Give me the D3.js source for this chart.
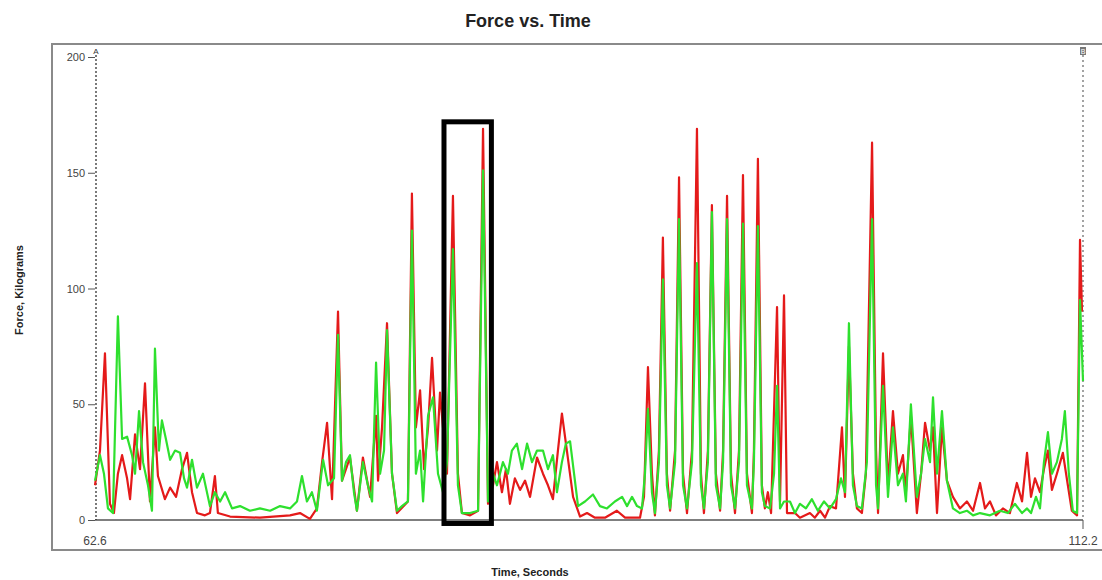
<!DOCTYPE html>
<html>
<head>
<meta charset="utf-8">
<script src="https://cdn.jsdelivr.net/npm/d3@7"></script>
<style>
  body { margin: 0; background: #fff; }
  svg { display: block; font-family: "Liberation Sans", Arial, sans-serif; }
</style>
</head>
<body>
<svg id="chart" width="1102" height="580"></svg>
<script>
// Force vs. Time
const W = 1102, H = 580;

// время (с), сила (кг)
const timeDomain = [62.6, 112.2];
const forceTicks = [0, 50, 100, 150, 200];
const timeLabels = ['62.6', '112.2'];

const redSeries = [
  [62.60,15],[62.85,30],[63.10,72],[63.35,7],[63.55,3],[63.75,20],[63.96,28],[64.21,18],[64.36,9],[64.61,37],
  [64.86,22],[65.11,59],[65.36,8],[65.61,40],[65.76,19],[66.11,9],[66.37,14],[66.67,10],[66.97,22],[67.22,29],
  [67.47,12],[67.72,3],[68.12,2],[68.37,3],[68.62,19],[68.77,3],[69.38,1.5],[70.88,1],[72.39,2],[72.89,3],
  [73.39,0.5],[73.74,5],[74.00,25],[74.25,42],[74.50,9],[74.80,90],[75.00,17],[75.40,27],[75.75,4],[76.05,27],
  [76.41,10],[76.71,45],[76.81,17],[77.01,40],[77.26,85],[77.51,20],[77.76,3],[78.31,8],[78.51,141],[78.71,40],
  [78.92,56],[79.12,22],[79.32,40],[79.52,70],[79.77,30],[79.92,55],[80.27,20],[80.57,140],[80.82,20],[81.02,3],
  [81.43,2],[81.83,4],[82.08,169],[82.33,7],[82.58,15],[82.78,25],[83.03,12],[83.23,22],[83.43,7],[83.68,18],
  [83.94,13],[84.19,17],[84.44,10],[84.79,27],[85.09,20],[85.34,15],[85.59,9],[85.84,30],[86.04,46],[86.29,30],
  [86.60,10],[86.95,1.5],[87.30,3],[87.70,1],[88.20,1],[88.80,4],[89.21,1],[89.96,1],[90.16,10],[90.36,66],
  [90.56,20],[90.71,2],[90.91,30],[91.11,122],[91.31,20],[91.47,4],[91.72,30],[91.92,148],[92.12,20],[92.32,3],
  [92.57,30],[92.82,169],[93.02,20],[93.17,3],[93.37,30],[93.57,136],[93.77,20],[93.98,4],[94.13,30],[94.33,140],
  [94.53,20],[94.73,3],[94.93,30],[95.13,149],[95.33,20],[95.58,3],[95.68,30],[95.88,156],[96.08,15],[96.23,5],
  [96.38,12],[96.54,3],[96.84,92],[96.99,8],[97.19,97],[97.34,3],[97.74,3],[97.99,1],[98.49,3],[98.74,1],
  [99.00,4],[99.25,1],[99.50,6],[99.80,5],[100.10,40],[100.25,10],[100.45,75],[100.65,20],[100.85,5],[101.10,3],
  [101.30,20],[101.61,163],[101.81,30],[101.91,3],[102.16,72],[102.41,15],[102.66,47],[102.91,20],[103.16,28],[103.31,12],
  [103.56,45],[103.86,3],[104.07,20],[104.27,42],[104.52,30],[104.67,40],[104.87,3],[105.12,40],[105.37,17],[105.67,10],
  [106.02,5],[106.37,8],[106.68,4],[107.03,16],[107.28,5],[107.53,8],[107.83,2],[108.18,5],[108.53,3],[108.88,16],
  [109.14,8],[109.39,29],[109.59,10],[109.79,18],[110.04,12],[110.24,22],[110.44,30],[110.64,13],[110.89,20],[111.19,29],
  [111.44,15],[111.64,4],[111.90,2],[112.05,121],[112.15,90]
];

const greenSeries = [
  [62.60,17],[62.85,28],[63.05,20],[63.25,5],[63.50,3],[63.75,88],[63.96,35],[64.21,36],[64.46,28],[64.61,20],
  [64.81,47],[65.01,25],[65.26,15],[65.46,4],[65.61,74],[65.81,30],[65.96,43],[66.16,35],[66.37,26],[66.62,30],
  [66.87,29],[67.07,18],[67.22,14],[67.47,26],[67.72,14],[68.02,20],[68.37,6],[68.62,12],[68.88,8],[69.13,12],
  [69.48,5],[69.88,6],[70.38,4],[70.88,5],[71.39,4],[71.89,6],[72.39,5],[72.74,8],[72.99,19],[73.24,8],
  [73.49,12],[73.74,4],[74.05,26],[74.30,15],[74.60,18],[74.80,80],[75.00,17],[75.20,25],[75.40,28],[75.60,12],
  [75.75,4],[76.05,25],[76.30,15],[76.51,8],[76.71,68],[76.91,20],[77.11,30],[77.26,82],[77.51,20],[77.76,4],
  [78.01,6],[78.31,8],[78.51,125],[78.71,20],[78.92,30],[79.07,8],[79.32,45],[79.57,53],[79.82,20],[80.07,12],
  [80.27,25],[80.57,117],[80.82,15],[81.02,3],[81.43,3],[81.83,4],[82.08,151],[82.33,8],[82.58,20],[82.78,15],
  [83.08,25],[83.33,20],[83.53,30],[83.78,33],[84.04,22],[84.29,33],[84.54,25],[84.79,30],[85.09,30],[85.34,22],
  [85.59,28],[85.79,12],[86.04,25],[86.24,33],[86.45,34],[86.65,20],[86.85,6],[87.20,8],[87.60,11],[87.95,6],
  [88.30,5],[88.70,8],[89.06,10],[89.31,6],[89.56,10],[89.81,6],[90.06,5],[90.21,20],[90.36,48],[90.56,12],
  [90.71,3],[90.91,25],[91.11,104],[91.31,15],[91.47,5],[91.72,25],[91.92,130],[92.12,15],[92.32,5],[92.57,25],
  [92.82,111],[93.02,15],[93.17,5],[93.37,25],[93.57,133],[93.77,15],[93.98,5],[94.13,25],[94.33,130],[94.53,15],
  [94.73,5],[94.93,25],[95.13,128],[95.33,15],[95.58,5],[95.68,25],[95.88,127],[96.08,12],[96.23,6],[96.49,5],
  [96.69,20],[96.84,58],[96.99,5],[97.19,8],[97.49,8],[97.74,3],[97.99,7],[98.29,5],[98.59,9],[98.89,4],
  [99.20,8],[99.50,5],[99.80,9],[100.05,18],[100.25,12],[100.45,85],[100.65,15],[100.85,6],[101.10,5],[101.35,25],
  [101.61,130],[101.81,15],[101.91,5],[102.16,58],[102.41,10],[102.66,40],[102.91,15],[103.16,20],[103.31,8],[103.56,50],
  [103.86,10],[104.07,20],[104.27,35],[104.52,25],[104.67,53],[104.87,20],[105.12,47],[105.37,17],[105.67,5],[106.02,3],
  [106.37,4],[106.68,2],[107.03,3],[107.53,2],[108.03,4],[108.43,3],[108.78,7],[109.14,3],[109.39,5],[109.59,3],
  [109.84,10],[110.04,5],[110.24,25],[110.44,38],[110.64,20],[110.89,25],[111.14,35],[111.29,47],[111.49,20],[111.69,4],
  [111.90,3],[112.05,95],[112.20,60]
];

// выделенная рамка вокруг двух пиков
const boxTime = [80.12, 82.5];
const boxForce = [-1.5, 172];

const svg = d3.select('#chart');

const x = d3.scaleLinear().domain(timeDomain).range([95, 1083]);
const y = d3.scaleLinear().domain([0, 200]).range([520, 57]);

// внешняя рамка
svg.append('rect')
  .attr('x', 52).attr('y', 44).attr('width', 1080).attr('height', 506)
  .attr('fill', 'none').attr('stroke', '#8a8a8a').attr('stroke-width', 2);

// заголовок
svg.append('text')
  .attr('x', 528).attr('y', 27)
  .attr('text-anchor', 'middle')
  .attr('font-size', 18).attr('font-weight', 'bold').attr('fill', '#222')
  .text('Force vs. Time');

// ось Y
const yAxis = d3.axisLeft(y).tickValues(forceTicks).tickSize(7).tickPadding(3);
const gy = svg.append('g').attr('transform', 'translate(95,0)').call(yAxis);
gy.select('.domain').remove();
gy.selectAll('line').attr('stroke', '#555');
gy.selectAll('text').attr('font-size', 11).attr('fill', '#444');

// ось X — только крайние подписи
svg.append('line')
  .attr('x1', x(timeDomain[0])).attr('x2', x(timeDomain[1]))
  .attr('y1', y(0)).attr('y2', y(0))
  .attr('stroke', '#555').attr('stroke-width', 1.5);
svg.append('line')
  .attr('x1', x(timeDomain[1])).attr('x2', x(timeDomain[1]))
  .attr('y1', y(0)).attr('y2', y(0) + 9)
  .attr('stroke', '#555');
svg.selectAll('text.xlab')
  .data(timeLabels)
  .join('text')
  .attr('class', 'xlab')
  .attr('x', (d, i) => x(timeDomain[i]))
  .attr('y', 545)
  .attr('text-anchor', 'middle')
  .attr('font-size', 12).attr('fill', '#444')
  .text(d => d);

// подписи осей
svg.append('text')
  .attr('x', 530).attr('y', 576)
  .attr('text-anchor', 'middle')
  .attr('font-size', 11).attr('font-weight', 'bold').attr('fill', '#222')
  .text('Time, Seconds');
svg.append('text')
  .attr('transform', 'translate(23,290) rotate(-90)')
  .attr('text-anchor', 'middle')
  .attr('font-size', 11).attr('font-weight', 'bold').attr('fill', '#222')
  .text('Force, Kilograms');

// курсоры A и B
svg.append('line')
  .attr('x1', x(timeDomain[0]) + 1).attr('x2', x(timeDomain[0]) + 1)
  .attr('y1', 55).attr('y2', y(0))
  .attr('stroke', '#222').attr('stroke-width', 1.2).attr('stroke-dasharray', '2,2');
svg.append('text')
  .attr('x', x(timeDomain[0]) + 1).attr('y', 54)
  .attr('text-anchor', 'middle').attr('font-size', 8).attr('fill', '#333')
  .text('A');
svg.append('line')
  .attr('x1', x(timeDomain[1])).attr('x2', x(timeDomain[1]))
  .attr('y1', 55).attr('y2', y(0))
  .attr('stroke', '#666').attr('stroke-width', 1.2).attr('stroke-dasharray', '2,3');
svg.append('rect')
  .attr('x', x(timeDomain[1]) - 3).attr('y', 47).attr('width', 6).attr('height', 8)
  .attr('fill', '#777');
svg.append('text')
  .attr('x', x(timeDomain[1])).attr('y', 54)
  .attr('text-anchor', 'middle').attr('font-size', 7).attr('fill', '#fff')
  .text('B');

// линии
const line = d3.line()
  .x(d => x(d[0]))
  .y(d => y(d[1]));

svg.append('path')
  .datum(redSeries)
  .attr('d', line)
  .attr('fill', 'none')
  .attr('stroke', '#e41a1a')
  .attr('stroke-width', 2.2)
  .attr('stroke-linejoin', 'round');

svg.append('path')
  .datum(greenSeries)
  .attr('d', line)
  .attr('fill', 'none')
  .attr('stroke', '#2ee02e')
  .attr('stroke-width', 2.2)
  .attr('stroke-linejoin', 'round');

// чёрная рамка
svg.append('rect')
  .attr('x', x(boxTime[0])).attr('y', y(boxForce[1]))
  .attr('width', x(boxTime[1]) - x(boxTime[0]))
  .attr('height', y(boxForce[0]) - y(boxForce[1]))
  .attr('fill', 'none').attr('stroke', '#000').attr('stroke-width', 5);
</script>
</body>
</html>
